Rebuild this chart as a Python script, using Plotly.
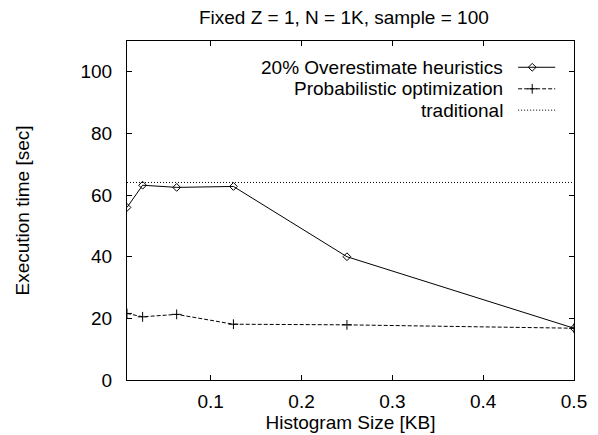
import plotly.graph_objects as go

hist_size_kb = [1/128, 0.025, 0.0625, 0.125, 0.25, 0.5]
overestimate = [56.0, 63.2, 62.5, 62.8, 40.0, 16.8]
probabilistic = [21.6, 20.5, 21.3, 18.1, 17.9, 16.8]
traditional_x = [1/128, 0.5]
traditional = [64.1, 64.1]

x_ticks = [0.1, 0.2, 0.3, 0.4, 0.5]
y_ticks = [0, 20, 40, 60, 80, 100]

series_names = ["20% Overestimate heuristics", "Probabilistic optimization", "traditional"]

FONT = "Liberation Sans, Arial, Helvetica, sans-serif"
FS = 19

fig = go.Figure()
fig.add_trace(go.Scatter(
    x=hist_size_kb, y=overestimate, mode="lines+markers",
    name=series_names[0], showlegend=False,
    line=dict(color="black", width=1),
    marker=dict(symbol="diamond-open", size=6, color="black", line=dict(width=1, color="black")),
))
fig.add_trace(go.Scatter(
    x=hist_size_kb, y=probabilistic, mode="lines+markers",
    name=series_names[1], showlegend=False,
    line=dict(color="black", width=1, dash="4px,2px"),
    marker=dict(symbol="cross-thin-open", size=7, color="black", line=dict(width=1, color="black")),
))
fig.add_trace(go.Scatter(
    x=traditional_x, y=traditional, mode="lines",
    name=series_names[2], showlegend=False,
    line=dict(color="black", width=1, dash="1px,2px"),
))

# gnuplot-style key: right-aligned text with line samples on the right
key_rows_y = [0.9225, 0.859, 0.796]
key_text_x = 0.846
key_x0, key_x1 = 0.875, 0.958
key_styles = [
    dict(dash="solid", symbol="diamond-open", size=6),
    dict(dash="4px,2px", symbol="cross-thin-open", size=7),
    dict(dash="1px,2px", symbol=None, size=0),
]
for name, ky, st in zip(series_names, key_rows_y, key_styles):
    fig.add_annotation(text=name, xref="paper", yref="paper", x=key_text_x, y=ky,
                       xanchor="right", yanchor="middle", showarrow=False,
                       font=dict(size=FS, family=FONT, color="black"))
    fig.add_shape(type="line", xref="paper", yref="paper", x0=key_x0, x1=key_x1, y0=ky, y1=ky,
                  line=dict(color="black", width=1, dash=st["dash"]))
    if st["symbol"]:
        fig.add_trace(go.Scatter(
            x=[(key_x0 + key_x1) / 2 - 0.01], y=[ky], xaxis="x2", yaxis="y2", mode="markers",
            showlegend=False, hoverinfo="skip",
            marker=dict(symbol=st["symbol"], size=st["size"], color="black",
                        line=dict(width=1, color="black")),
        ))

fig.update_layout(
    width=598, height=435,
    margin=dict(l=127, r=24, t=41, b=55, autoexpand=False),
    paper_bgcolor="white", plot_bgcolor="white",
    font=dict(family=FONT, size=FS, color="black"),
    title=dict(text="Fixed Z = 1, N = 1K, sample = 100", x=0.575, xanchor="center",
               y=0.975, yanchor="top", font=dict(size=FS, family=FONT)),
    showlegend=False,
    xaxis=dict(range=[1/128, 0.5], tickvals=x_ticks, ticktext=[str(v) for v in x_ticks],
               ticks="inside", ticklen=5, tickcolor="black", mirror="allticks",
               showline=True, linecolor="black", linewidth=1, showgrid=False, zeroline=False,
               ticklabelstandoff=4, automargin=False,
               title=dict(text="Histogram Size [KB]", standoff=4, font=dict(size=FS)),
               tickfont=dict(size=FS)),
    yaxis=dict(range=[0, 110], tickvals=y_ticks,
               ticks="inside", ticklen=5, tickcolor="black", mirror="allticks",
               showline=True, linecolor="black", linewidth=1, showgrid=False, zeroline=False,
               ticklabelstandoff=10, automargin=False,
               title=dict(text="Execution time [sec]", standoff=45, font=dict(size=FS)),
               tickfont=dict(size=FS)),
    xaxis2=dict(overlaying="x", range=[0, 1], visible=False, showgrid=False),
    yaxis2=dict(overlaying="y", range=[0, 1], visible=False, showgrid=False),
)

fig.write_html("out.html")
